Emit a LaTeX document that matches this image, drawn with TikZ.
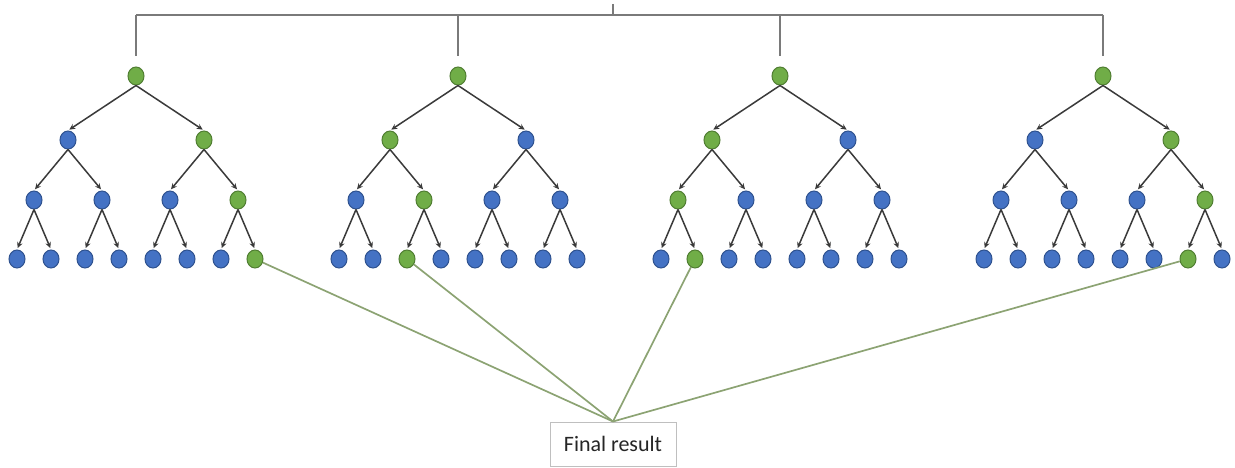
\documentclass[tikz,border=0pt]{standalone}
\usepackage{fontspec}
\setmainfont{Carlito}
\usetikzlibrary{shapes.geometric,arrows.meta}
\definecolor{bfill}{HTML}{4472C4}
\definecolor{bdraw}{HTML}{2F528F}
\definecolor{gfill}{HTML}{70AD47}
\definecolor{gdraw}{HTML}{507E32}
\definecolor{arrc}{HTML}{3A3A3A}
\definecolor{brc}{HTML}{7A7A7A}
\definecolor{glc}{HTML}{8CA373}
\tikzset{
  nd/.style={ellipse, minimum width=16pt, minimum height=18pt, inner sep=0pt, fill=\fc, draw=\dc, line width=1pt},
  arr/.style={draw=arrc, line width=1.5pt, -{Stealth[length=6pt,width=5.5pt]}, shorten >=1.5pt},
  bracket/.style={draw=brc, line width=2.2pt},
  gline/.style={draw=glc, line width=1.7pt},
  finbox/.style={draw=black!25, line width=1pt, fill=white, minimum width=126pt, minimum height=44pt, inner sep=0pt, font=\fontsize{22}{26}\selectfont, text=black!85}
}
\newcommand\mktree[5]{%
  % #1 name, #2 x, #3 green L2 index, #4 green L3 index, #5 green L4 index
  \def\fc{gfill}\def\dc{gdraw}%
  \node[nd] (#1-1-1) at (#2,76) {};
  \foreach \i in {1,2}{%
    \ifnum\i=#3 \def\fc{gfill}\def\dc{gdraw}\else\def\fc{bfill}\def\dc{bdraw}\fi
    \node[nd] (#1-2-\i) at ({#2-68+136*(\i-1)},140) {};
    \draw[arr] (#1-1-1.south) -- (#1-2-\i.north);
  }
  \foreach \i in {1,...,4}{%
    \ifnum\i=#4 \def\fc{gfill}\def\dc{gdraw}\else\def\fc{bfill}\def\dc{bdraw}\fi
    \pgfmathtruncatemacro\p{(\i+1)/2}
    \node[nd] (#1-3-\i) at ({#2-102+68*(\i-1)},200) {};
    \draw[arr] (#1-2-\p.south) -- (#1-3-\i.north);
  }
  \foreach \i in {1,...,8}{%
    \ifnum\i=#5 \def\fc{gfill}\def\dc{gdraw}\else\def\fc{bfill}\def\dc{bdraw}\fi
    \pgfmathtruncatemacro\p{(\i+1)/2}
    \node[nd] (#1-4-\i) at ({#2-119+34*(\i-1)},259) {};
    \draw[arr] (#1-3-\p.south) -- (#1-4-\i.north);
  }
}
\begin{document}
\begin{tikzpicture}[x=1pt,y=-1pt]
\useasboundingbox (0,0) rectangle (1235,468);
\mktree{ta}{136}{2}{4}{8}
\mktree{tb}{458}{1}{2}{3}
\mktree{tc}{780}{1}{1}{2}
\mktree{td}{1103}{2}{4}{7}
% top bracket
\coordinate (b1) at (136,15);
\coordinate (b2) at (458,15);
\coordinate (b3) at (780,15);
\coordinate (b4) at (1103,15);
\coordinate (bt) at (613,4);
\coordinate (bm) at (613,15);
\draw[bracket] (b1) -- (b4);
\draw[bracket] (bt) -- (bm);
\draw[bracket] (b1) -- ([yshift=10pt]ta-1-1.north);
\draw[bracket] (b2) -- ([yshift=10pt]tb-1-1.north);
\draw[bracket] (b3) -- ([yshift=10pt]tc-1-1.north);
\draw[bracket] (b4) -- ([yshift=10pt]td-1-1.north);
% final result
\node[finbox] (fin) at (613,444) {Final result};
\draw[gline] (ta-4-8) -- (fin.north);
\draw[gline] (tb-4-3) -- (fin.north);
\draw[gline] (tc-4-2) -- (fin.north);
\draw[gline] (td-4-7) -- (fin.north);
\end{tikzpicture}
\end{document}
